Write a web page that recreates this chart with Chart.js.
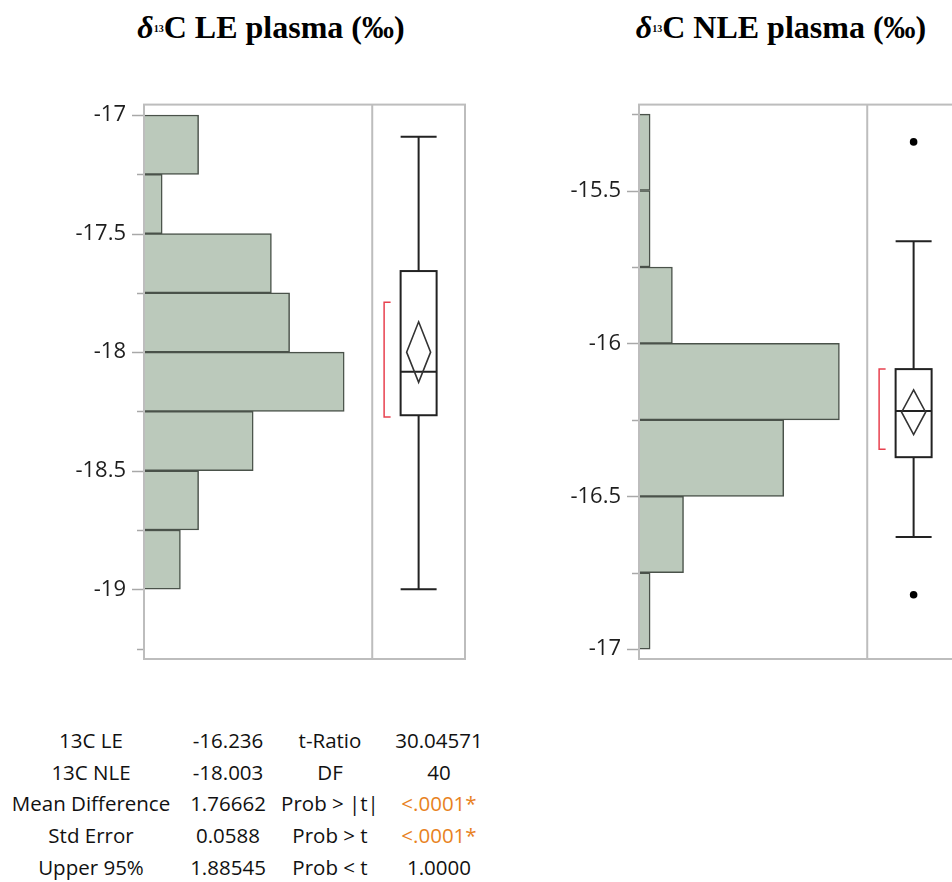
<!DOCTYPE html>
<html>
<head>
<meta charset="utf-8">
<script src="https://cdn.jsdelivr.net/npm/chart.js@4.4.1/dist/chart.umd.min.js"></script>
<style>
  html, body { margin: 0; padding: 0; background: #fff; overflow: hidden; }
  body { width: 952px; height: 882px; position: relative; }
  .title {
    position: absolute; top: 11px; transform: translateX(-50%);
    font-family: "Liberation Serif", "Times New Roman", serif; font-weight: bold;
    font-size: 32px; line-height: 32px; color: #000; white-space: nowrap;
  }
  .title i { font-style: italic; }
  .title sup { font-size: 10px; vertical-align: 6px; line-height: 0; }
  .chart { position: absolute; top: 90px; }
  #stats {
    position: absolute; top: 725px; left: 0; border-collapse: collapse;
    font-family: "Open Sans", sans-serif; font-size: 20.5px; color: #111;
  }
  #stats td { padding: 0; height: 31.7px; line-height: 31.7px; text-align: center; white-space: nowrap; }
  #stats td.sig { color: #e8821e; }
</style>
</head>
<body>
<div class="title" style="left:271px"><i>δ</i><sup>13</sup>C LE plasma (‰)</div>
<div class="title" style="left:781px"><i>δ</i><sup>13</sup>C NLE plasma (‰)</div>
<canvas id="leChart" class="chart" style="left:0px" width="480" height="590"></canvas>
<canvas id="nleChart" class="chart" style="left:495px" width="480" height="590"></canvas>
<table id="stats">
  <colgroup><col style="width:182px"><col style="width:92px"><col style="width:112px"><col style="width:106px"></colgroup>
  <tbody></tbody>
</table>
<script>
// δ13C LE plasma: histogram (bin centres, 0.25 ‰ wide) and counts
const leBins = [-17.125, -17.375, -17.625, -17.875, -18.125, -18.375, -18.625, -18.875];
const leCounts = [3, 1, 7, 8, 11, 6, 3, 2];
const leTicks = [-17, -17.25, -17.5, -17.75, -18, -18.25, -18.5, -18.75, -19, -19.25];
// box: low whisker, Q1, median, Q3, high whisker
const leBox = [-19.0, -18.266, -18.083, -17.658, -17.092];
// mean diamond: mean, lower 95%, upper 95%
const leMean = [-18.0, -18.127, -17.872];
const leShortest = [-18.273, -17.79];
const leOutliers = [];

// δ13C NLE plasma
const nleBins = [-15.375, -15.625, -15.875, -16.125, -16.375, -16.625, -16.875];
const nleCounts = [1, 1, 3, 18, 13, 4, 1];
const nleTicks = [-15.25, -15.5, -15.75, -16, -16.25, -16.5, -16.75, -17];
const nleBox = [-16.633, -16.372, -16.221, -16.084, -15.666];
const nleMean = [-16.225, -16.298, -16.152];
const nleShortest = [-16.346, -16.084];
const nleOutliers = [-16.822, -15.341];

// t-test summary table
const statLabels = ['13C LE', '13C NLE', 'Mean Difference', 'Std Error', 'Upper 95%'];
const statValues = ['-16.236', '-18.003', '1.76662', '0.0588', '1.88545'];
const testLabels = ['t-Ratio', 'DF', 'Prob > |t|', 'Prob > t', 'Prob < t'];
const testValues = ['30.04571', '40', '<.0001*', '<.0001*', '1.0000'];

const HIST_FRAC = 0.711;   // share of the plot width used by the histogram
const FRAME = '#bdbdbd';

// frame, tick marks and the outlier box plot panel
const boxPanel = {
  id: 'boxPanel',
  afterDatasetsDraw(chart, args, opts) {
    const ctx = chart.ctx;
    const a = chart.chartArea;
    const ys = chart.scales.y;
    const y = v => ys.getPixelForValue(v);
    const divX = a.left + HIST_FRAC * (a.right - a.left);
    const cx = (divX + a.right) / 2;
    ctx.save();

    // ticks on the left edge, long for labelled ones
    ctx.strokeStyle = '#a8a8a8';
    ctx.lineWidth = 1.5;
    ys.ticks.forEach(t => {
      const major = Math.abs(t.value * 2 - Math.round(t.value * 2)) < 1e-9;
      const len = major ? 12 : 7;
      const py = Math.round(y(t.value)) + 0.5;
      ctx.beginPath();
      ctx.moveTo(a.left - len, py);
      ctx.lineTo(a.left, py);
      ctx.stroke();
    });

    // frame and divider
    ctx.strokeStyle = FRAME;
    ctx.lineWidth = 2;
    ctx.strokeRect(a.left, a.top, a.right - a.left, a.bottom - a.top);
    ctx.beginPath();
    ctx.moveTo(divX, a.top);
    ctx.lineTo(divX, a.bottom);
    ctx.stroke();

    const [lo, q1, med, q3, hi] = opts.box;
    const hw = 18;
    ctx.strokeStyle = '#222';
    ctx.lineWidth = 2;
    ctx.beginPath();
    ctx.moveTo(cx, y(hi)); ctx.lineTo(cx, y(q3));
    ctx.moveTo(cx, y(q1)); ctx.lineTo(cx, y(lo));
    ctx.moveTo(cx - hw, y(hi)); ctx.lineTo(cx + hw, y(hi));
    ctx.moveTo(cx - hw, y(lo)); ctx.lineTo(cx + hw, y(lo));
    ctx.stroke();
    ctx.strokeRect(cx - hw, y(q3), 2 * hw, y(q1) - y(q3));
    ctx.beginPath();
    ctx.moveTo(cx - hw, y(med)); ctx.lineTo(cx + hw, y(med));
    ctx.stroke();

    // mean diamond
    const [m, mLo, mHi] = opts.mean;
    ctx.strokeStyle = '#333';
    ctx.lineWidth = 1.6;
    ctx.beginPath();
    ctx.moveTo(cx, y(mHi));
    ctx.lineTo(cx + 12, y(m));
    ctx.lineTo(cx, y(mLo));
    ctx.lineTo(cx - 12, y(m));
    ctx.closePath();
    ctx.stroke();

    // shortest half bracket
    const [sLo, sHi] = opts.shortest;
    ctx.strokeStyle = '#e8414f';
    ctx.lineWidth = 1.5;
    ctx.beginPath();
    ctx.moveTo(cx - 28, y(sHi));
    ctx.lineTo(cx - 34.5, y(sHi));
    ctx.lineTo(cx - 34.5, y(sLo));
    ctx.lineTo(cx - 28, y(sLo));
    ctx.stroke();

    // outliers
    ctx.fillStyle = '#000';
    opts.outliers.forEach(v => {
      ctx.beginPath();
      ctx.arc(cx, y(v), 3.8, 0, Math.PI * 2);
      ctx.fill();
    });
    ctx.restore();
  }
};

function makeChart(id, bins, counts, ticks, yMin, yMax, histMax, box, mean, shortest, outliers) {
  return new Chart(document.getElementById(id), {
    type: 'bar',
    data: {
      datasets: [{
        data: bins.map((b, i) => ({ x: counts[i], y: b })),
        backgroundColor: '#bbc9bb',
        borderColor: '#4a524a',
        borderWidth: 1.5,
        barPercentage: 1,
        categoryPercentage: 1
      }]
    },
    options: {
      indexAxis: 'y',
      responsive: false,
      animation: false,
      layout: { padding: { top: 14.6, bottom: 21, left: 0, right: 15 } },
      plugins: {
        legend: { display: false },
        tooltip: { enabled: false },
        boxPanel: { box, mean, shortest, outliers }
      },
      scales: {
        x: { type: 'linear', min: 0, max: histMax / HIST_FRAC, display: false },
        y: {
          type: 'linear', min: yMin, max: yMax, offset: false,
          afterBuildTicks: s => { s.ticks = ticks.map(v => ({ value: v })); },
          afterFit: s => { s.width = 144; s.paddingTop = 0; s.paddingBottom = 0; },
          grid: { display: false, drawTicks: false, offset: false },
          border: { display: false },
          ticks: {
            autoSkip: false, padding: 18, color: '#1e1e1e',
            font: { family: 'Open Sans', size: 22 },
            callback: v => (Math.abs(v * 2 - Math.round(v * 2)) < 1e-9 ? String(v) : '')
          }
        }
      }
    },
    plugins: [boxPanel]
  });
}

makeChart('leChart', leBins, leCounts, leTicks, -19.294, -16.956, 12.54, leBox, leMean, leShortest, leOutliers);
makeChart('nleChart', nleBins, nleCounts, nleTicks, -17.032, -15.219, 20.5, nleBox, nleMean, nleShortest, nleOutliers);

// summary table
const tbody = document.querySelector('#stats tbody');
statLabels.forEach((lab, i) => {
  const tr = document.createElement('tr');
  [lab, statValues[i], testLabels[i], testValues[i]].forEach(txt => {
    const td = document.createElement('td');
    td.textContent = txt;
    if (txt.endsWith('*')) td.className = 'sig';
    tr.appendChild(td);
  });
  tbody.appendChild(tr);
});
</script>
</body>
</html>
